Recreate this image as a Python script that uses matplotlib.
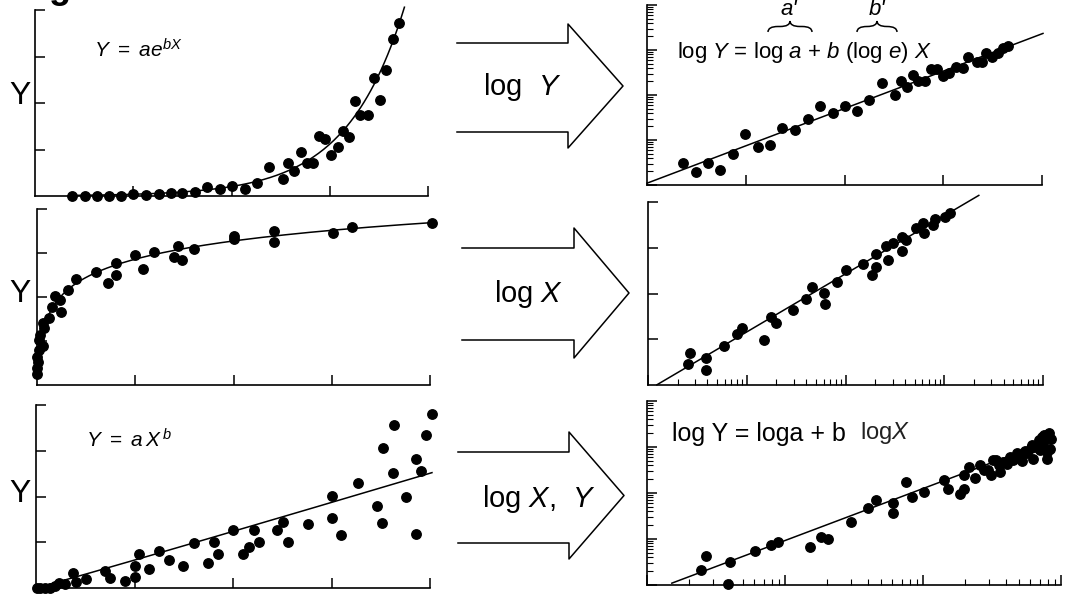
import numpy as np
import matplotlib
matplotlib.use('Agg')
import matplotlib.pyplot as plt
from matplotlib.ticker import LogLocator, FixedLocator
from matplotlib.path import Path
from matplotlib.patches import PathPatch

plt.rcParams['font.family'] = ['Liberation Sans', 'DejaVu Sans']
plt.rcParams['mathtext.fontset'] = 'custom'
plt.rcParams['mathtext.rm'] = 'Liberation Sans'
plt.rcParams['mathtext.it'] = 'Liberation Sans:italic'
plt.rcParams['mathtext.bf'] = 'Liberation Sans:bold'

# --- data ---
# exponential  Y = a e^(bX)
exp_x = [0.38, 0.51, 0.63, 0.75, 0.88, 1.00, 1.13, 1.26, 1.38, 1.50, 1.63, 1.75, 1.88,
         2.01, 2.14, 2.26, 2.38, 2.52, 2.57, 2.64, 2.71, 2.77, 2.83, 2.89, 2.95, 3.01,
         3.08, 3.13, 3.20, 3.26, 3.31, 3.39, 3.45, 3.51, 3.57, 3.64, 3.70]
exp_y = [0.0, 0.0, 0.0, 0.0, 0.01, 0.04, 0.02, 0.04, 0.06, 0.06, 0.09, 0.19, 0.14,
         0.22, 0.16, 0.28, 0.63, 0.37, 0.70, 0.54, 0.94, 0.70, 0.70, 1.28, 1.23, 0.89,
         1.06, 1.40, 1.26, 2.05, 1.74, 1.74, 2.54, 2.06, 2.72, 3.38, 3.71]
exp_a, exp_b = 0.0068, 1.70

# logarithmic  Y = c + d ln X
lgc_x = [4.02, 3.21, 3.01, 2.41, 2.41, 2.01, 2.01, 1.60, 1.44, 1.39, 1.48, 1.19, 1.00,
         1.08, 0.80, 0.80, 0.72, 0.60, 0.40, 0.32, 0.23, 0.24, 0.18, 0.15, 0.12, 0.074,
         0.058, 0.064, 0.031, 0.024, 0.020, 0.003, 0.013, 0.003, 0.003]
lgc_y = [3.69, 3.60, 3.46, 3.51, 3.24, 3.39, 3.31, 3.09, 3.17, 2.90, 2.83, 3.03, 2.95,
         2.64, 2.77, 2.50, 2.31, 2.56, 2.42, 2.17, 1.93, 1.65, 2.03, 1.77, 1.53, 1.29,
         1.40, 0.89, 1.14, 1.02, 0.80, 0.64, 0.53, 0.38, 0.25]
lgc_c, lgc_d = 2.86, 0.597

# power  Y = a X^b
pow_x = [4.02, 3.63, 3.52, 3.96, 3.86, 3.91, 3.62, 3.76, 3.46, 3.51, 3.86, 3.27, 3.01,
         3.01, 3.10, 2.76, 2.51, 2.56, 2.45, 2.21, 2.26, 2.16, 2.10, 2.00, 1.81, 1.85,
         1.75, 1.60, 1.49, 1.35, 1.25, 1.15, 1.05, 1.01, 1.01, 0.90, 0.75, 0.70, 0.51,
         0.38, 0.41, 0.29, 0.23, 0.19, 0.14, 0.09, 0.04, 0.01]
pow_y = [3.80, 3.56, 3.05, 3.34, 2.81, 2.56, 2.51, 1.98, 1.79, 1.41, 1.17, 2.29, 2.02,
         1.54, 1.16, 1.40, 1.44, 1.01, 1.27, 1.27, 1.01, 0.89, 0.74, 1.27, 1.00, 0.74,
         0.54, 0.98, 0.49, 0.61, 0.81, 0.41, 0.74, 0.48, 0.23, 0.16, 0.21, 0.37, 0.19,
         0.33, 0.14, 0.09, 0.10, 0.04, 0.01, 0.0, 0.0, 0.0]
pow_a, pow_b = 0.61, 1.02

# semi-log (log Y vs X)
sem_x = [0.36, 0.50, 0.62, 0.74, 0.87, 0.99, 1.12, 1.25, 1.37, 1.50, 1.63, 1.75, 1.88,
         2.01, 2.13, 2.25, 2.38, 2.51, 2.57, 2.63, 2.69, 2.74, 2.82, 2.88, 2.94, 3.00,
         3.06, 3.13, 3.20, 3.25, 3.34, 3.39, 3.43, 3.49, 3.55, 3.60, 3.66]
sem_logy = [0.50, 0.30, 0.50, 0.33, 0.70, 1.13, 0.85, 0.90, 1.26, 1.22, 1.46, 1.76, 1.59,
            1.76, 1.64, 1.89, 2.26, 2.00, 2.31, 2.17, 2.44, 2.31, 2.31, 2.58, 2.58, 2.42,
            2.50, 2.63, 2.61, 2.84, 2.74, 2.74, 2.93, 2.84, 2.94, 3.04, 3.09]
sem_a1, sem_b1 = 0.04, 0.83          # log Y = a' + b' X

# Y vs log X
lx_logx = [0.40, 0.43, 0.59, 0.59, 0.77, 0.90, 0.95, 1.17, 1.25, 1.30, 1.47, 1.60, 1.66,
           1.78, 1.79, 1.91, 2.01, 2.18, 2.27, 2.31, 2.31, 2.43, 2.41, 2.48, 2.57, 2.57,
           2.61, 2.71, 2.78, 2.79, 2.89, 2.91, 3.01, 3.06]
lx_y = [0.46, 0.71, 0.58, 0.33, 0.85, 1.11, 1.24, 0.98, 1.49, 1.36, 1.64, 1.87, 2.14,
        2.02, 1.76, 2.26, 2.51, 2.64, 2.40, 2.59, 2.86, 2.73, 3.04, 3.10, 2.93, 3.23,
        3.17, 3.44, 3.55, 3.32, 3.50, 3.62, 3.68, 3.75]
lx_c, lx_d = -0.11, 1.27

# log Y vs log X
ll_logx = [0.39, 0.43, 0.60, 0.59, 0.78, 0.90, 0.95, 1.18, 1.26, 1.31, 1.48, 1.60, 1.66,
           1.78, 1.78, 1.88, 1.92, 2.01, 2.15, 2.18, 2.27, 2.30, 2.30, 2.33, 2.38, 2.41,
           2.47, 2.49, 2.51, 2.56, 2.58, 2.63, 2.65, 2.69, 2.72, 2.75, 2.78, 2.80, 2.82,
           2.84, 2.86, 2.87, 2.88, 2.90, 2.90, 2.91, 2.85, 2.53, 2.61, 2.44, 2.68, 2.79,
           2.93, 2.92, 2.74, 2.66, 2.55]
ll_logy = [0.33, 0.64, 0.51, 0.02, 0.74, 0.88, 0.94, 0.83, 1.05, 1.01, 1.36, 1.67, 1.85,
           1.56, 1.78, 2.25, 1.92, 2.03, 2.28, 2.08, 1.98, 2.08, 2.39, 2.56, 2.33, 2.61,
           2.50, 2.39, 2.72, 2.46, 2.68, 2.79, 2.72, 2.83, 2.70, 2.88, 2.97, 2.75, 3.01,
           3.15, 3.22, 3.08, 3.26, 2.90, 2.75, 3.30, 2.93, 2.72, 2.63, 2.50, 2.86, 3.04,
           3.18, 2.95, 2.92, 2.77, 2.60]
ll_x0, ll_b = 0.18, 1.13             # log Y = 0.04 + b (log X - x0)

W, H = 1068, 594
fig = plt.figure(figsize=(W / 100, H / 100), dpi=100)


def px_axes(left, top, right, bottom):
    return fig.add_axes([left / W, 1 - bottom / H, (right - left) / W, (bottom - top) / H])


def style(ax):
    ax.patch.set_visible(False)
    for s in ('top', 'right'):
        ax.spines[s].set_visible(False)
    for s in ('left', 'bottom'):
        ax.spines[s].set_linewidth(1.2)
    ax.tick_params(which='major', direction='in', length=7, width=1.1,
                   labelleft=False, labelbottom=False)
    ax.tick_params(which='minor', direction='in', length=4, width=0.8,
                   labelleft=False, labelbottom=False)


def lin_x(ax):
    ax.set_xlim(0, 4)
    ax.xaxis.set_major_locator(FixedLocator([1, 2, 3, 4]))


def lin_y(ax):
    ax.set_ylim(0, 4)
    ax.yaxis.set_major_locator(FixedLocator([1, 2, 3, 4]))


def log_axis(axis):
    axis.set_major_locator(LogLocator(base=10, numticks=20))
    axis.set_minor_locator(LogLocator(base=10, subs=np.arange(2, 10), numticks=50))


def dots(ax, x, y):
    ax.plot(x, y, 'o', color='k', ms=6.8, mec='k', clip_on=False, zorder=3)


def fit(ax, x, y):
    ax.plot(x, y, color='k', lw=1.1, clip_on=False, zorder=2)


# panel 1: exponential
ax1 = px_axes(35, 10, 428, 196)
style(ax1); lin_x(ax1); lin_y(ax1)
dots(ax1, exp_x, exp_y)
xc = np.linspace(0.35, 3.76, 200)
fit(ax1, xc, exp_a * np.exp(exp_b * xc))

# panel 2: logarithmic
ax2 = px_axes(37, 209, 430, 385)
style(ax2); lin_x(ax2); lin_y(ax2)
dots(ax2, lgc_x, lgc_y)
xc = np.geomspace(0.012, 4.02, 300)
fit(ax2, xc, lgc_c + lgc_d * np.log(xc))

# panel 3: power
ax3 = px_axes(36, 405, 430, 588)
style(ax3); lin_x(ax3); lin_y(ax3)
dots(ax3, pow_x, pow_y)
xc = np.linspace(0.03, 4.02, 200)
fit(ax3, xc, pow_a * xc ** pow_b)

# panel 4: log Y vs X
ax4 = px_axes(647, 5, 1042, 185)
style(ax4); lin_x(ax4)
ax4.set_yscale('log'); ax4.set_ylim(1, 1e4); log_axis(ax4.yaxis)
dots(ax4, sem_x, 10 ** np.array(sem_logy))
xc = np.array([0.0, 4.01])
fit(ax4, xc, 10 ** (sem_a1 + sem_b1 * xc))

# panel 5: Y vs log X
ax5 = px_axes(648, 202, 1043, 385)
style(ax5); lin_y(ax5)
ax5.set_xscale('log'); ax5.set_xlim(1, 1e4); log_axis(ax5.xaxis)
dots(ax5, 10 ** np.array(lx_logx), lx_y)
lc = np.array([0.09, 3.35])
fit(ax5, 10 ** lc, lx_c + lx_d * lc)

# panel 6: log Y vs log X
ax6 = px_axes(647, 401, 1061, 585)
style(ax6)
ax6.set_xscale('log'); ax6.set_xlim(1, 1e3); log_axis(ax6.xaxis)
ax6.set_yscale('log'); ax6.set_ylim(1, 1e4); log_axis(ax6.yaxis)
dots(ax6, 10 ** np.array(ll_logx), 10 ** np.array(ll_logy))
lc = np.array([ll_x0, 2.95])
fit(ax6, 10 ** lc, 10 ** (0.04 + ll_b * (lc - ll_x0)))

# overlay in pixel coordinates for arrows and annotations
ov = fig.add_axes([0, 0, 1, 1])
ov.set_xlim(0, W); ov.set_ylim(H, 0); ov.axis('off')


def block_arrow(x0, x1, top, bot, htop, hbot, tip):
    mid = (htop + hbot) / 2
    ov.plot([x0, x1, x1, tip, x1, x1, x0],
            [top, top, htop, mid, hbot, bot, bot], color='k', lw=1.1)


block_arrow(457, 568, 43, 132, 24, 148, 623)
block_arrow(462, 574, 248, 340, 228, 358, 629)
block_arrow(458, 569, 452, 543, 432, 559, 624)

arrow_kw = dict(fontsize=21, ha='center', va='center')
ov.text(522, 87, r'log  $Y$', **arrow_kw)
ov.text(529, 294, r'log $X$', **arrow_kw)
ov.text(539, 499, r'log $X$,  $Y$', **arrow_kw)

for yy in (96, 294, 494):
    ov.text(20, yy, 'Y', fontsize=23, ha='center', va='center')

# caption letter cut by the top edge, as in the scan
ov.text(60, -2, 'g', fontsize=26, fontweight='bold', ha='center', va='baseline')

ov.text(94, 57, r'$Y\ =\ ae^{bX}$', fontsize=15, ha='left', va='baseline')
ov.text(86, 448, r'$Y\ =\ a\,X^{\,b}$', fontsize=15, ha='left', va='baseline')

ov.text(677, 58, r'log $Y$ = log $a$ + $b$ (log $e$) $X$', fontsize=16,
        ha='left', va='baseline')


def brace(x0, x1, y, h):
    xm = (x0 + x1) / 2
    r = min(h * 0.9, (x1 - x0) / 4)
    verts = [(x0, y), (x0, y - h / 2), (x0 + r, y - h / 2),
             (xm - r, y - h / 2), (xm, y - h / 2), (xm, y - h),
             (xm, y - h / 2), (xm + r, y - h / 2),
             (x1 - r, y - h / 2), (x1, y - h / 2), (x1, y)]
    codes = [Path.MOVETO, Path.CURVE3, Path.CURVE3,
             Path.LINETO, Path.CURVE3, Path.CURVE3,
             Path.CURVE3, Path.CURVE3,
             Path.LINETO, Path.CURVE3, Path.CURVE3]
    ov.add_patch(PathPatch(Path(verts, codes), fc='none', ec='k', lw=1.1))


brace(768, 812, 32, 11)
brace(857, 897, 32, 11)
ov.text(789, 15, "a'", fontsize=16, style='italic', ha='center', va='baseline')
ov.text(877, 15, "b'", fontsize=16, style='italic', ha='center', va='baseline')

t1 = ov.text(672, 446, 'log Y = loga + b  ', fontsize=18, ha='left', va='bottom')
ov.annotate(r'log$X$', xy=(1, 0), xycoords=t1, fontsize=17, ha='left', va='bottom',
            color='#222222')

fig.savefig('out.png', dpi=100)
